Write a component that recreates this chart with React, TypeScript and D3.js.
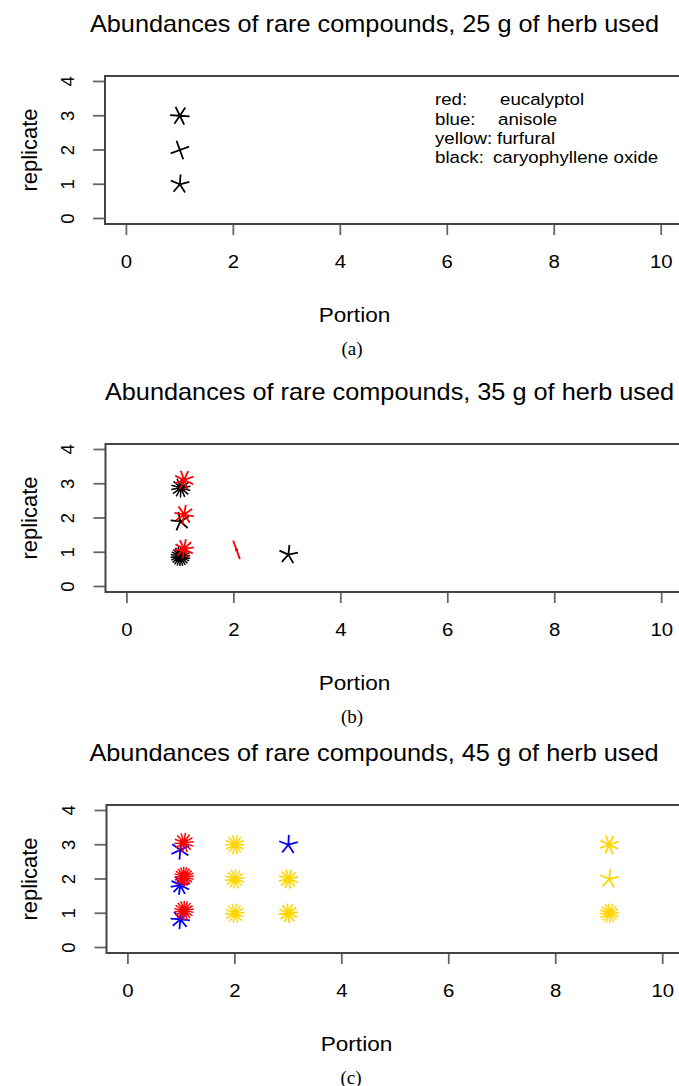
import React from 'react';
import * as d3 from 'd3';

// Compound legend: colour word and compound name
const compoundNames = ['eucalyptol', 'anisole', 'furfural', 'caryophyllene oxide'];
const colourWords = ['red:', 'blue:', 'yellow:', 'black:'];
const compoundColours: Record<string, string> = {
  eucalyptol: '#ff0000',
  anisole: '#0000ff',
  furfural: '#ffd700',
  'caryophyllene oxide': '#000000',
};

const xTicks = [0, 2, 4, 6, 8, 10];
const yTicks = [0, 1, 2, 3, 4];

const panelTitles = [
  'Abundances of rare compounds, 25 g of herb used',
  'Abundances of rare compounds, 35 g of herb used',
  'Abundances of rare compounds, 45 g of herb used',
];
const panelCaptions = ['(a)', '(b)', '(c)'];

// Sunflower observations: [compound, portion, replicate, count]
type Obs = [string, number, number, number];

const herb25: Obs[] = [
  ['caryophyllene oxide', 1.0, 3.0, 6],
  ['caryophyllene oxide', 1.0, 2.0, 4],
  ['caryophyllene oxide', 1.0, 1.0, 5],
];

const herb35: Obs[] = [
  ['caryophyllene oxide', 1.01, 2.88, 14],
  ['caryophyllene oxide', 1.0, 1.9, 5],
  ['caryophyllene oxide', 1.0, 0.88, 22],
  ['caryophyllene oxide', 3.02, 0.93, 5],
  ['eucalyptol', 1.07, 3.11, 8],
  ['eucalyptol', 1.07, 2.1, 8],
  ['eucalyptol', 1.07, 1.1, 10],
  ['eucalyptol', 2.05, 1.07, 2],
];

const herb45: Obs[] = [
  ['anisole', 0.98, 2.85, 6],
  ['anisole', 0.98, 1.82, 10],
  ['anisole', 0.98, 0.82, 8],
  ['anisole', 3.0, 3.0, 5],
  ['furfural', 2.0, 3.0, 14],
  ['furfural', 2.0, 2.0, 14],
  ['furfural', 2.0, 1.0, 14],
  ['furfural', 3.0, 2.0, 12],
  ['furfural', 3.0, 1.0, 12],
  ['furfural', 9.0, 3.0, 8],
  ['furfural', 9.0, 2.0, 5],
  ['furfural', 9.0, 1.0, 16],
  ['eucalyptol', 1.05, 3.06, 14],
  ['eucalyptol', 1.05, 2.07, 20],
  ['eucalyptol', 1.05, 1.08, 18],
];

// Random petal rotation of each sunflower (degrees)
const phase25 = [-4, 20, 14];
const phase35 = [10, 30, 5, 12, 20, 35, 8, 110];
const phase45 = [25, 10, 40, 15, 0, 8, 4, 12, 6, 20, 12, 3, 5, 2, 9];

const panelData = [herb25, herb35, herb45];
const panelPhases = [phase25, phase35, phase45];

// Layout
const W = 679;
const H = 1086;
const panelOffsetY = [0, 368, 729];
const panelOffsetX = [0, 0.5, 1.5];
const titleX = [374.5, 389.5, 374];
const xlabX = [354.5, 354.5, 356.5];
const captionX = [352, 352, 351];

const BOX_LEFT = 105;
const BOX_RIGHT = 682.6;
const BOX_TOP = 76;
const BOX_BOTTOM = 224;
const PETAL = 9.8;
const SANS = '"Liberation Sans", Arial, Helvetica, sans-serif';
const SERIF = '"Liberation Serif", "Times New Roman", serif';
const STRETCH = 1.1;

function HText({ x, y, size, anchor = 'start', family = SANS, stretch = STRETCH, children }: any) {
  return (
    <text
      transform={`translate(${x},${y}) scale(${stretch},1)`}
      fontSize={size}
      fontFamily={family}
      textAnchor={anchor}
      fill="#000"
    >
      {children}
    </text>
  );
}

function petalPath(cx: number, cy: number, n: number, phaseDeg: number) {
  if (n < 2) return '';
  const p = d3.path();
  for (let k = 0; k < n; k++) {
    const a = ((phaseDeg + (360 * k) / n) * Math.PI) / 180;
    p.moveTo(cx, cy);
    p.lineTo(cx + PETAL * Math.cos(a), cy - PETAL * Math.sin(a));
  }
  return p.toString();
}

function Panel({ idx }: { idx: number }) {
  const oy = panelOffsetY[idx];
  const ox = panelOffsetX[idx];
  const x = d3.scaleLinear().domain([-0.4, 10.4]).range([BOX_LEFT + ox, BOX_RIGHT + ox]);
  const y = d3.scaleLinear().domain([-0.16, 4.16]).range([BOX_BOTTOM + oy, BOX_TOP + oy]);
  const data = panelData[idx];
  const phases = panelPhases[idx];
  const left = x(-0.4);
  const top = y(4.16);
  const bottom = y(-0.16);
  const right = x(10.4);

  return (
    <g>
      <HText x={titleX[idx]} y={31.5 + oy} size={23} anchor="middle">
        {panelTitles[idx]}
      </HText>

      {/* y axis */}
      {yTicks.map((t) => (
        <g key={'y' + t}>
          <line x1={left - 12} x2={left} y1={y(t)} y2={y(t)} stroke="#666" strokeWidth={1.8} />
          <text
            transform={`translate(${left - 31.5},${y(t)}) rotate(-90)`}
            fontSize={18.5}
            fontFamily={SANS}
            textAnchor="middle"
          >
            {t}
          </text>
        </g>
      ))}
      <text
        transform={`translate(37,${(top + bottom) / 2}) rotate(-90)`}
        fontSize={22}
        fontFamily={SANS}
        textAnchor="middle"
      >
        replicate
      </text>

      {/* x axis */}
      {xTicks.map((t) => (
        <g key={'x' + t}>
          <line x1={x(t)} x2={x(t)} y1={bottom} y2={bottom + 11} stroke="#666" strokeWidth={1.8} />
          <HText x={x(t)} y={bottom + 44} size={18.5} anchor="middle">
            {t}
          </HText>
        </g>
      ))}
      <HText x={xlabX[idx]} y={bottom + 98} size={20.5} anchor="middle">
        Portion
      </HText>
      <HText x={captionX[idx]} y={bottom + 130.5} size={19} anchor="middle" family={SERIF} stretch={1}>
        {panelCaptions[idx]}
      </HText>

      {/* plot frame */}
      <rect
        x={left}
        y={top}
        width={right - left}
        height={bottom - top}
        fill="none"
        stroke="#444"
        strokeWidth={2}
      />

      {/* centre points */}
      {data.map((d, i) => (
        <circle key={'c' + i} cx={x(d[1])} cy={y(d[2])} r={1.4} fill="#000" />
      ))}
      {/* sunflower petals */}
      {data.map((d, i) => (
        <path
          key={'p' + i}
          d={petalPath(x(d[1]), y(d[2]), d[3], phases[i])}
          stroke={compoundColours[d[0]]}
          strokeWidth={d[3] > 12 ? 1.5 : 1.8}
          strokeLinecap="butt"
          fill="none"
        />
      ))}
    </g>
  );
}

const legendNameX = [500, 498, 497, 493];
const legendBaselines = [105, 125, 144, 163];

export default function App() {
  return (
    <svg
      width={W}
      height={H}
      viewBox={`0 0 ${W} ${H}`}
      style={{ position: 'absolute', left: 0, top: 0, background: '#fff' }}
    >
      <rect x={0} y={0} width={W} height={H} fill="#fff" />
      {[0, 1, 2].map((i) => (
        <Panel key={i} idx={i} />
      ))}
      {compoundNames.map((name, i) => (
        <g key={name}>
          <HText x={435} y={legendBaselines[i]} size={17}>
            {colourWords[i]}
          </HText>
          <HText x={legendNameX[i]} y={legendBaselines[i]} size={17}>
            {name}
          </HText>
        </g>
      ))}
    </svg>
  );
}
